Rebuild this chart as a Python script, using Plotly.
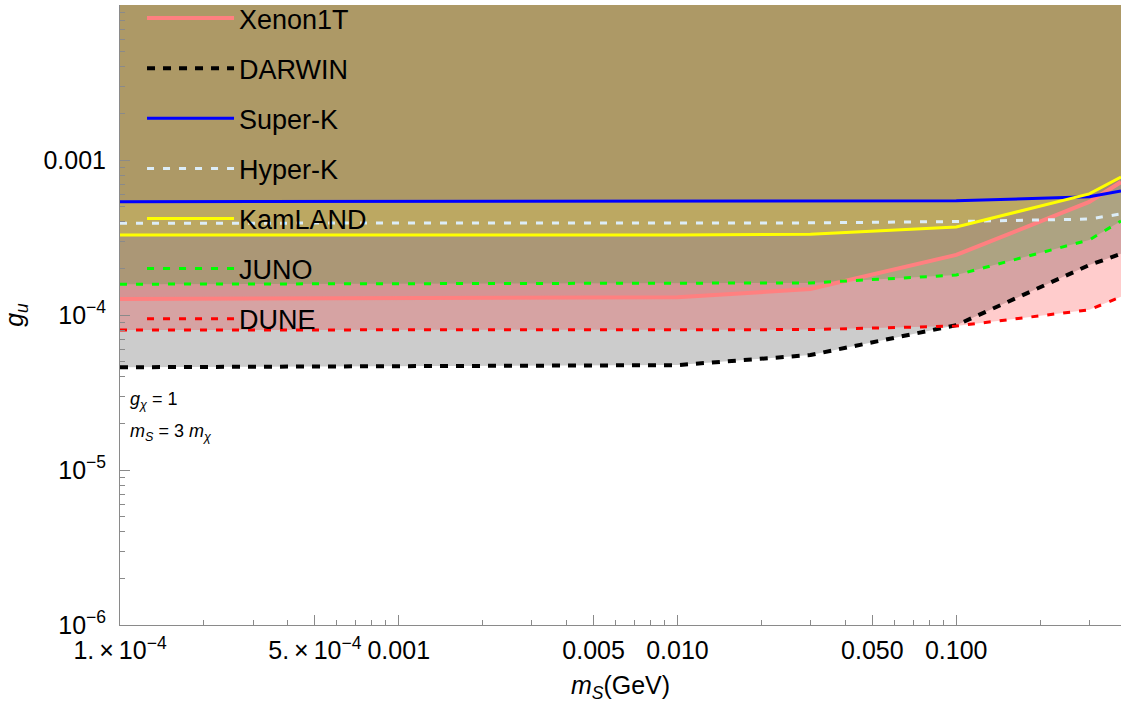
import plotly.graph_objects as go

# Scalar mediator mass grid (GeV) and coupling reach g_u of each experiment
m_S = [1e-4, 0.01, 0.03, 0.1, 0.3, 0.39]

xenon1t = [1.27e-4, 1.30e-4, 1.47e-4, 2.44e-4, 5.36e-4, 7.21e-4]
darwin = [4.60e-5, 4.75e-5, 5.52e-5, 8.60e-5, 2.10e-4, 2.48e-4]
super_k = [5.38e-4, 5.40e-4, 5.40e-4, 5.45e-4, 5.80e-4, 6.30e-4]
hyper_k = [3.91e-4, 3.91e-4, 3.93e-4, 4.01e-4, 4.16e-4, 4.49e-4]
kamland = [3.28e-4, 3.28e-4, 3.32e-4, 3.70e-4, 6.04e-4, 7.76e-4]
juno = [1.58e-4, 1.59e-4, 1.61e-4, 1.81e-4, 3.05e-4, 4.04e-4]
dune = [8.00e-5, 8.00e-5, 8.05e-5, 8.49e-5, 1.08e-4, 1.31e-4]

x_tickvals = [1e-4, 5e-4, 1e-3, 5e-3, 1e-2, 5e-2, 1e-1]
x_ticktext = ["1.\u2009×\u200910<sup>−4</sup>", "5.\u2009×\u200910<sup>−4</sup>", "0.001",
              "0.005", "0.010", "0.050", "0.100"]
y_tickvals = [1e-6, 1e-5, 1e-4, 1e-3, 1e-2]
y_ticktext = ["10<sup>−6</sup>", "10<sup>−5</sup>", "10<sup>−4</sup>", "0.001", ""]

X_MIN, X_MAX = 1e-4, 0.39
Y_MIN, Y_TOP = 1e-6, 1e-2

# name, values, line colour, dash, width, fill colour (region above the curve)
series = [
    ("DARWIN", darwin, "black", "8px,8px", 4, "rgba(0,0,0,0.2)"),
    ("DUNE", dune, "#ff0000", "7px,9px", 3, "rgba(255,0,0,0.2)"),
    ("Xenon1T", xenon1t, "#ff8080", "solid", 4, "rgba(204,88,88,0.2)"),
    ("JUNO", juno, "#00ff00", "7px,9px", 3, "rgba(10,165,0,0.2)"),
    ("KamLAND", kamland, "#ffff00", "solid", 3, "rgba(240,220,40,0.25)"),
    ("Hyper-K", hyper_k, "#dcedf8", "7px,9px", 3, None),
    ("Super-K", super_k, "#0000ff", "solid", 3, "rgba(45,27,141,0.1)"),
]
legend_order = ["Xenon1T", "DARWIN", "Super-K", "Hyper-K", "KamLAND", "JUNO", "DUNE"]

fig = go.Figure()

# shaded regions: from each curve up to the top of the plot
for name, ys, color, dash, width, fill in series:
    if fill is None:
        continue
    fig.add_trace(go.Scatter(
        x=m_S + m_S[::-1],
        y=ys + [Y_TOP] * len(ys),
        fill="toself", fillcolor=fill, mode="lines",
        line=dict(width=0), hoverinfo="skip", showlegend=False,
    ))

# curves, drawn over all fills
style = {s[0]: s for s in series}
for name in legend_order:
    _, ys, color, dash, width, _ = style[name]
    fig.add_trace(go.Scatter(
        x=m_S, y=ys, mode="lines", name=name, legendgroup=name,
        line=dict(color=color, dash=dash, width=width),
    ))

x_minor = [m * 10.0 ** e for e in range(-4, 0) for m in range(2, 10) if m != 5]
x_minor = [v for v in x_minor if v <= X_MAX]
y_minor = [m * 10.0 ** e for e in range(-6, -2) for m in range(2, 10)]

FONT = "Liberation Sans, Arial, sans-serif"
axis_font = dict(family=FONT, size=25, color="black")

fig.update_xaxes(
    type="log", range=[-4, 0.5910646 - 1], showgrid=False, zeroline=False,
    showline=True, linecolor="#8a8a8a", linewidth=1, automargin=False,
    tickmode="array", tickvals=x_tickvals, ticktext=x_ticktext,
    ticks="inside", ticklen=10, tickcolor="#8a8a8a", tickwidth=1,
    tickfont=axis_font, ticklabelstandoff=3,
    minor=dict(tickmode="array", tickvals=x_minor, ticks="inside",
               ticklen=5, tickcolor="#8a8a8a", tickwidth=1, showgrid=False),
    title=dict(text="<i>m</i><sub><i>S</i></sub>(GeV)", font=axis_font, standoff=13),
)
fig.update_yaxes(
    type="log", range=[-6, -2], showgrid=False, zeroline=False,
    showline=True, linecolor="#8a8a8a", linewidth=1, automargin=False,
    tickmode="array", tickvals=y_tickvals, ticktext=y_ticktext,
    ticks="inside", ticklen=10, tickcolor="#8a8a8a", tickwidth=1,
    tickfont=axis_font, ticklabelstandoff=8,
    minor=dict(tickmode="array", tickvals=y_minor, ticks="inside",
               ticklen=5, tickcolor="#8a8a8a", tickwidth=1, showgrid=False),
    title=dict(text="<i>g</i><sub><i>u</i></sub>", font=axis_font, standoff=12),
)

note_font = dict(family=FONT, size=18, color="black")
fig.add_annotation(xref="paper", yref="paper", x=0.008, y=0.362,
                   xanchor="left", yanchor="middle", showarrow=False,
                   text="<i>g</i><sub><i>χ</i></sub> = 1", font=note_font)
fig.add_annotation(xref="paper", yref="paper", x=0.008, y=0.31,
                   xanchor="left", yanchor="middle", showarrow=False,
                   text="<i>m</i><sub><i>S</i></sub> = 3 <i>m</i><sub><i>χ</i></sub>",
                   font=note_font)

fig.update_layout(
    width=1121, height=713, autosize=False,
    margin=dict(l=120, r=0, t=5, b=88, autoexpand=False),
    plot_bgcolor="white", paper_bgcolor="white",
    showlegend=True,
    legend=dict(x=0.022, y=1.0177, xanchor="left", yanchor="top",
                bgcolor="rgba(0,0,0,0)", borderwidth=0,
                font=dict(family=FONT, size=27, color="black"),
                traceorder="grouped", tracegroupgap=12, itemwidth=87),
)

fig.write_html("out.html")
